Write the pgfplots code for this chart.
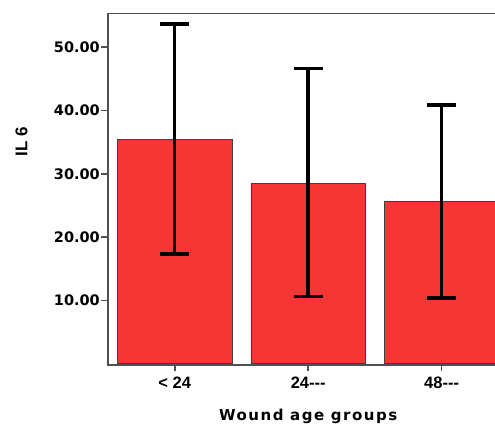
\documentclass[border=0pt]{standalone}
\usepackage{fontspec}
\usepackage{pgfplots}
\usepackage{pgfplotstable}
\pgfplotsset{compat=1.18}
\newfontfamily\dvb{DejaVu Sans}
\newfontfamily\libs{Liberation Sans}
\definecolor{barred}{RGB}{244,54,52}
\definecolor{axgray}{RGB}{80,80,80}
\pgfplotstableread{
x y ep em
0 35.45 18.19 18.13
1 28.55 18.13 17.92
2 25.65 15.23 15.24
}\datatable
\begin{document}
\begin{tikzpicture}
\useasboundingbox (-108pt,-60pt) rectangle (387pt,365pt);
\clip (-108pt,-60pt) rectangle (387pt,365pt);
\begin{axis}[
  at={(0pt,0pt)}, anchor=south west,
  scale only axis, width=400.4pt, height=351.3pt,
  xmin=-0.5, xmax=2.5, ymin=-0.2, ymax=55.3,
  xtick={0,1,2}, xticklabels={{< 24},{24-{}-{}-},{48-{}-{}-}},
  ytick={10,20,30,40,50},
  tick align=outside, xtick pos=bottom, ytick pos=left,
  major tick length=6.5pt,
  tick style={draw=axgray, line width=1.6pt},
  axis line style={draw=axgray, line width=1.2pt},
  /pgf/number format/assume math mode=true,
  yticklabel style={font=\dvb\bfseries\fontsize{14.5}{15}\selectfont, /pgf/number format/fixed, /pgf/number format/fixed zerofill, /pgf/number format/precision=2, inner sep=1.5pt},
  xticklabel style={font=\libs\bfseries\fontsize{16.5}{18}\selectfont, yshift=-2pt},
  xlabel={Wound age groups},
  xlabel style={font=\dvb\bfseries\addfontfeature{LetterSpace=10}\fontsize{15}{16}\selectfont, at={(axis description cs:0.5,0)}, anchor=center, yshift=-51pt},
  ylabel={IL 6},
  ylabel style={font=\libs\bfseries\fontsize{17}{18}\selectfont, at={(axis description cs:-0.216,0.635)}, anchor=center},
]
\addplot[ybar, bar width=114.5pt, fill=barred, draw=black!75, line width=0.8pt,
  error bars/.cd, y dir=both, y explicit,
  error mark=|,
  error bar style={line width=3.5pt, black},
  error mark options={line width=3.5pt, mark size=14.5pt, black}]
  table[x=x, y=y, y error plus=ep, y error minus=em] {\datatable};
\end{axis}
\end{tikzpicture}
\end{document}
